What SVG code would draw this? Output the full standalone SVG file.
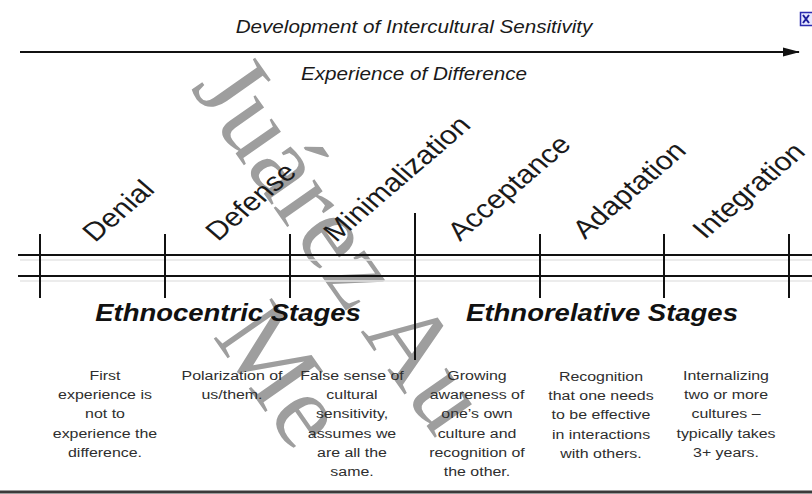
<svg xmlns="http://www.w3.org/2000/svg" width="812" height="494" viewBox="0 0 812 494">
<style>
.wm{font-family:"Liberation Serif","Times New Roman",serif;font-size:108px;fill:#9e9e9e}
.ttl{font-family:"Liberation Sans",Arial,sans-serif;font-size:17.5px;font-style:italic;fill:#1a1a1a;text-anchor:middle}
.stg{font-family:"Liberation Sans",Arial,sans-serif;font-size:26px;fill:#1a1a1a}
.hdr{font-family:"Liberation Sans",Arial,sans-serif;font-size:23.5px;font-style:italic;font-weight:bold;fill:#111;text-anchor:middle}
.dsc{font-family:"Liberation Sans",Arial,sans-serif;font-size:13.5px;fill:#2e2e2e;text-anchor:middle}
.ln{stroke:#111;stroke-width:2;fill:none}
.sh{stroke:#e6e6e6;stroke-width:1.5;fill:none}
</style>
<defs>
<marker id="ah" markerWidth="17" markerHeight="10" refX="16" refY="5" orient="auto" markerUnits="userSpaceOnUse">
<path d="M0,0.5 L17,5 L0,9.5 Z" fill="#111"/>
</marker>
</defs>
<rect width="812" height="494" fill="#ffffff"/>
<g id="watermark">
<text class="wm" transform="translate(190,88) rotate(55)">Juárez Au</text>
<text class="wm" transform="translate(212,336) rotate(55)">Me</text>
</g>
<g id="connectors">
<line class="ln" x1="20" y1="52" x2="799" y2="52" marker-end="url(#ah)"/>
<line class="sh" x1="20" y1="260" x2="812" y2="260"/>
<line class="sh" x1="20" y1="281" x2="812" y2="281"/>
<line class="ln" x1="18" y1="255" x2="812" y2="255"/>
<line class="ln" x1="18" y1="276" x2="812" y2="276"/>
<line class="ln" x1="40" y1="234" x2="40" y2="298"/>
<line class="ln" x1="165" y1="234" x2="165" y2="298"/>
<line class="ln" x1="290" y1="234" x2="290" y2="298"/>
<line class="ln" x1="415" y1="213" x2="415" y2="360"/>
<line class="ln" x1="540" y1="234" x2="540" y2="298"/>
<line class="ln" x1="664" y1="234" x2="664" y2="298"/>
<line class="ln" x1="789" y1="234" x2="789" y2="298"/>
<line x1="0" y1="492" x2="812" y2="492" stroke="#3a3a3a" stroke-width="3"/>
</g>
<g id="titles">
<text class="ttl" transform="translate(414,33) scale(1.18,1)">Development of Intercultural Sensitivity</text>
<text class="ttl" transform="translate(414,80) scale(1.18,1)">Experience of Difference</text>
</g>
<g id="icon">
<rect x="800.5" y="12.5" width="13" height="13" fill="#e6e8ff" stroke="#2b2bb0" stroke-width="1.5"/>
<path d="M803,15 L809,23 M809,15 L803,23" stroke="#1d1d9a" stroke-width="2"/>
</g>
<g id="denial">
<text class="stg" transform="translate(95,243) scale(1.17,1) rotate(-45)">Denial</text>
<text class="dsc" transform="translate(105,380) scale(1.18,1)"><tspan x="0" y="0">First</tspan><tspan x="0" y="19.2">experience is</tspan><tspan x="0" y="38.4">not to</tspan><tspan x="0" y="57.6">experience the</tspan><tspan x="0" y="76.8">difference.</tspan></text>
</g>
<g id="defense">
<text class="stg" transform="translate(218,242) scale(1.17,1) rotate(-45)">Defense</text>
<text class="dsc" transform="translate(232,380) scale(1.18,1)"><tspan x="0" y="0">Polarization of</tspan><tspan x="0" y="19.2">us/them.</tspan></text>
</g>
<g id="minimalization">
<text class="stg" transform="translate(336,243) scale(1.17,1) rotate(-45)">Minimalization</text>
<text class="dsc" transform="translate(352,380) scale(1.18,1)"><tspan x="0" y="0">False sense of</tspan><tspan x="0" y="19.2">cultural</tspan><tspan x="0" y="38.4">sensitivity,</tspan><tspan x="0" y="57.6">assumes we</tspan><tspan x="0" y="76.8">are all the</tspan><tspan x="0" y="96">same.</tspan></text>
</g>
<g id="acceptance">
<text class="stg" transform="translate(460,242) scale(1.17,1) rotate(-45)">Acceptance</text>
<text class="dsc" transform="translate(477,380) scale(1.18,1)"><tspan x="0" y="0">Growing</tspan><tspan x="0" y="19.2">awareness of</tspan><tspan x="0" y="38.4">one’s own</tspan><tspan x="0" y="57.6">culture and</tspan><tspan x="0" y="76.8">recognition of</tspan><tspan x="0" y="96">the other.</tspan></text>
</g>
<g id="adaptation">
<text class="stg" transform="translate(585,240) scale(1.17,1) rotate(-45)">Adaptation</text>
<text class="dsc" transform="translate(601,381) scale(1.18,1)"><tspan x="0" y="0">Recognition</tspan><tspan x="0" y="19.2">that one needs</tspan><tspan x="0" y="38.4">to be effective</tspan><tspan x="0" y="57.6">in interactions</tspan><tspan x="0" y="76.8">with others.</tspan></text>
</g>
<g id="integration">
<text class="stg" transform="translate(705,240) scale(1.17,1) rotate(-45)">Integration</text>
<text class="dsc" transform="translate(726,380) scale(1.18,1)"><tspan x="0" y="0">Internalizing</tspan><tspan x="0" y="19.2">two or more</tspan><tspan x="0" y="38.4">cultures –</tspan><tspan x="0" y="57.6">typically takes</tspan><tspan x="0" y="76.8">3+ years.</tspan></text>
</g>
<g id="ethnocentric">
<text class="hdr" transform="translate(228,321) scale(1.17,1)">Ethnocentric Stages</text>
</g>
<g id="ethnorelative">
<text class="hdr" transform="translate(602,321) scale(1.17,1)">Ethnorelative Stages</text>
</g>
</svg>
